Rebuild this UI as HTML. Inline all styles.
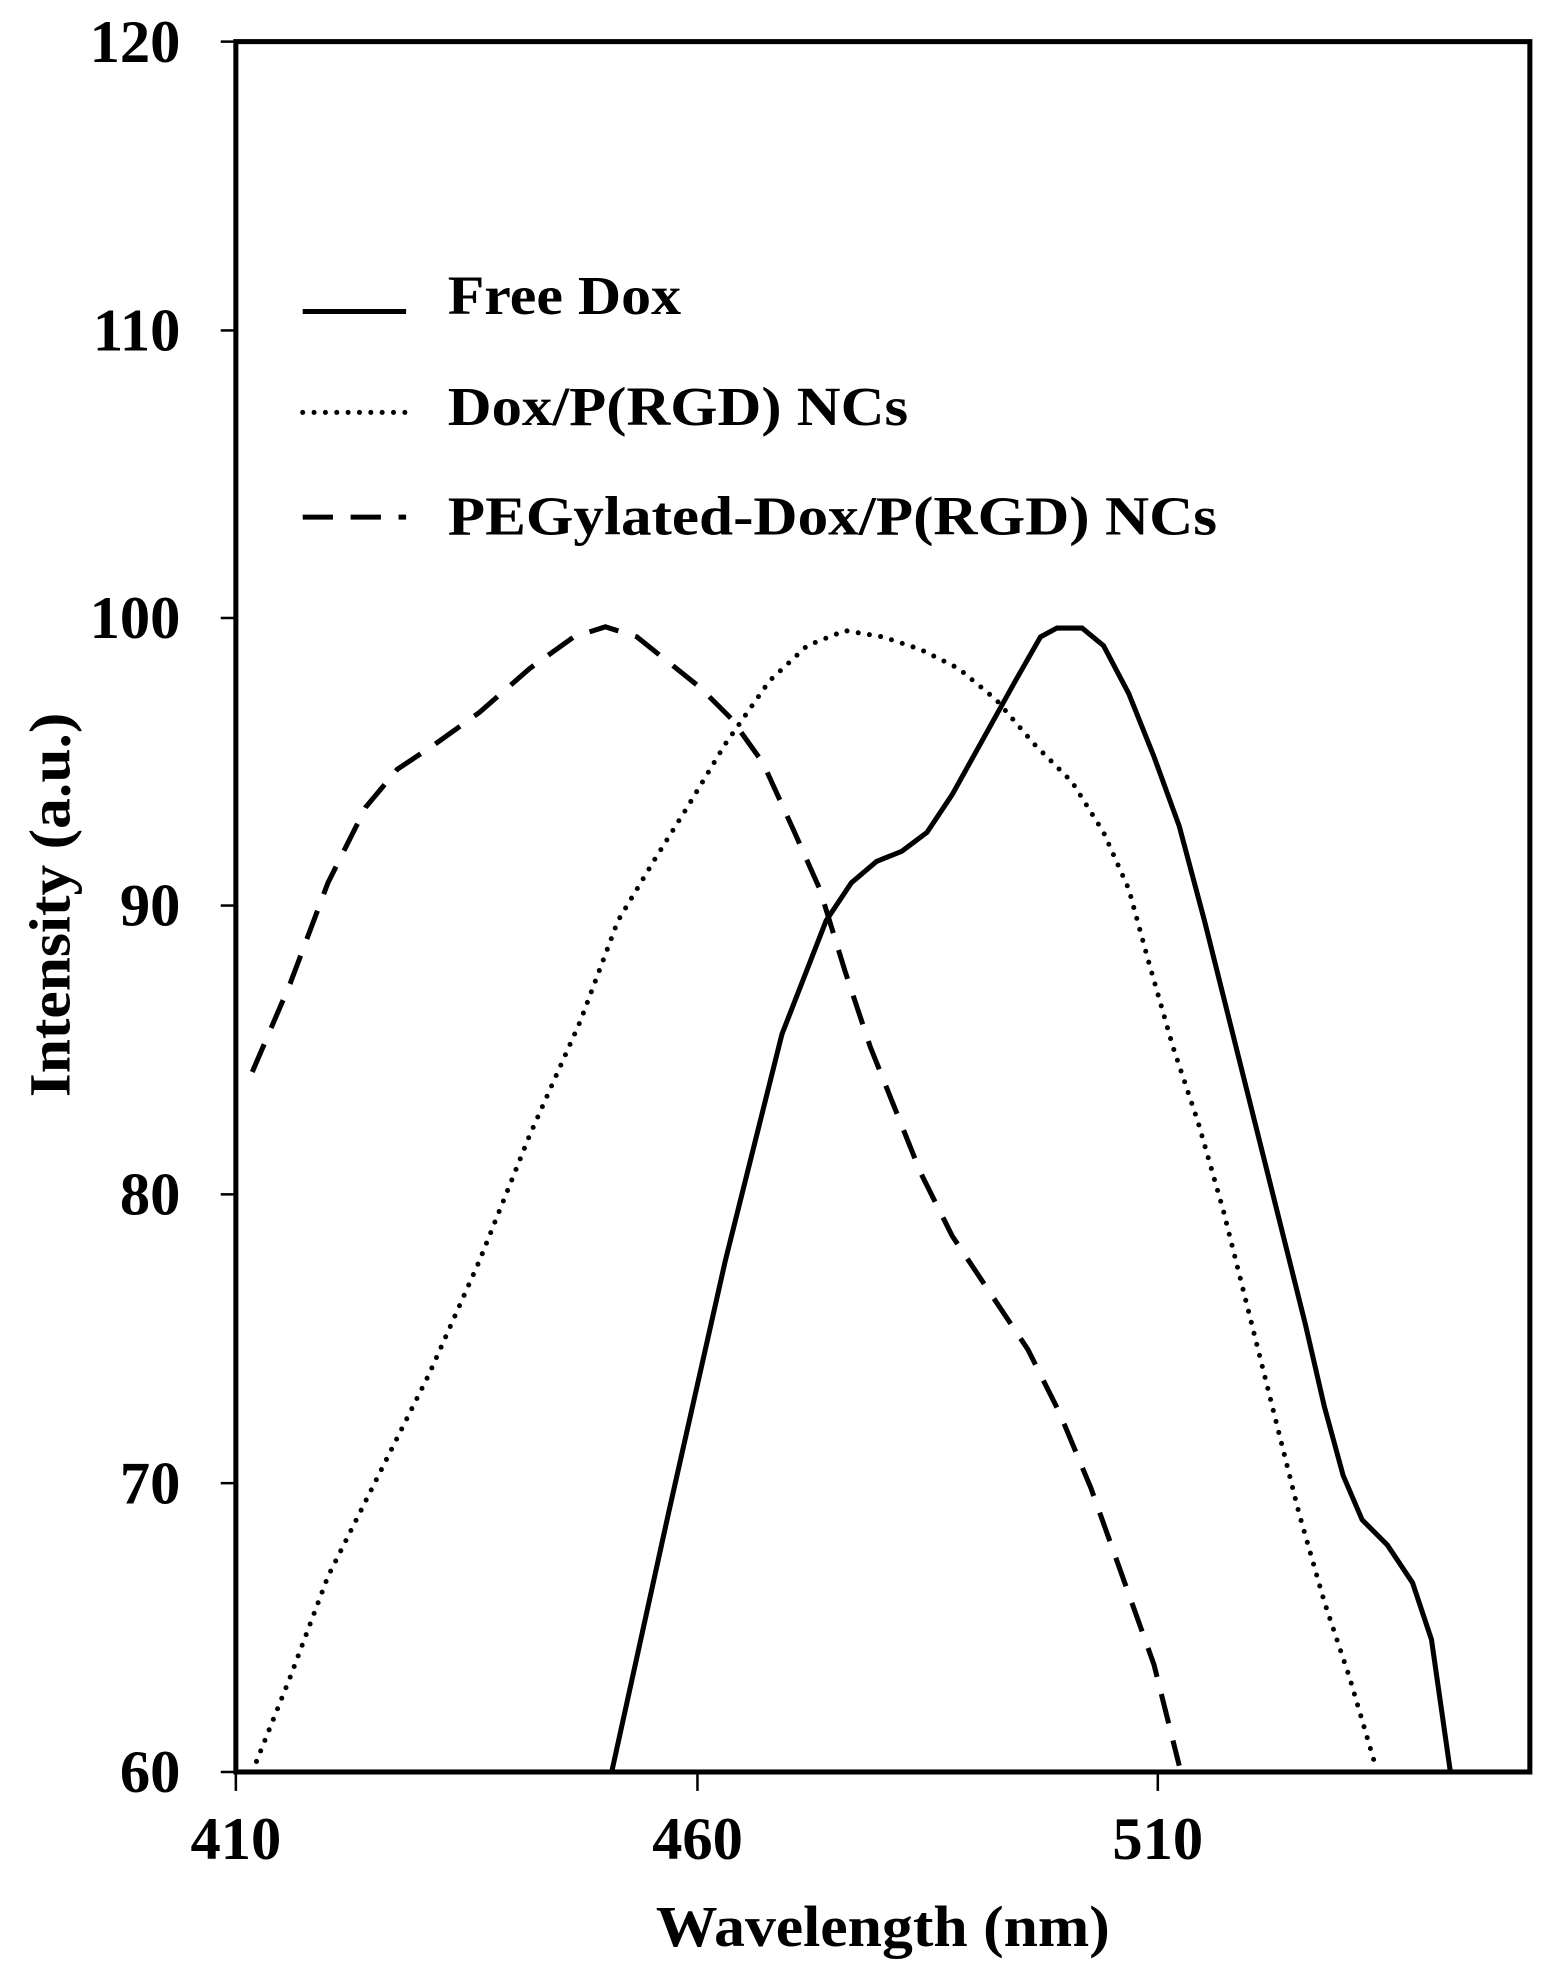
<!DOCTYPE html>
<html><head><meta charset="utf-8"><style>html,body{margin:0;padding:0;background:#fff}svg{display:block}</style></head>
<body>
<svg width="1545" height="1971" viewBox="0 0 1225 1562.8" xmlns="http://www.w3.org/2000/svg" font-family="Liberation Serif, serif" font-weight="bold">
<rect x="187" y="33" width="1026" height="1372" fill="none" stroke="#000" stroke-width="4"/>
<g stroke="#000" stroke-width="2">
<line x1="175" y1="33" x2="187" y2="33"/><line x1="175" y1="262" x2="187" y2="262"/><line x1="175" y1="490" x2="187" y2="490"/><line x1="175" y1="718" x2="187" y2="718"/><line x1="175" y1="947" x2="187" y2="947"/><line x1="175" y1="1176" x2="187" y2="1176"/><line x1="175" y1="1405" x2="187" y2="1405"/>
<line x1="187" y1="1405" x2="187" y2="1420"/><line x1="553" y1="1405" x2="553" y2="1420"/><line x1="918" y1="1405" x2="918" y2="1420"/>
</g>
<g font-size="48" text-anchor="end">
<text x="143" y="49">120</text><text x="143" y="278">110</text><text x="143" y="506">100</text><text x="143" y="734">90</text><text x="143" y="963">80</text><text x="143" y="1192">70</text><text x="143" y="1421">60</text>
</g>
<g font-size="48" text-anchor="middle">
<text x="187" y="1474">410</text><text x="553" y="1474">460</text><text x="918" y="1474">510</text>
</g>
<text x="520" y="1543" font-size="46" textLength="360" lengthAdjust="spacingAndGlyphs">Wavelength (nm)</text>
<text transform="translate(55,870) rotate(-90)" font-size="46" textLength="305" lengthAdjust="spacingAndGlyphs">Intensity (a.u.)</text>
<g fill="none" stroke="#000" stroke-width="4">
<line x1="240" y1="247" x2="322" y2="247"/>
<line x1="240" y1="327" x2="322" y2="327" stroke-dasharray="0 9" stroke-linecap="round"/>
<line x1="240" y1="410" x2="322" y2="410" stroke-dasharray="24 14"/>
<polyline points="485,1405 530,1200 575,1000 620,820 655,730 675,700 695,683 715,675 735,660 755,630 780,585 805,540 825,505 838,498 858,498 875,512 895,550 915,600 935,655 955,730 975,810 995,890 1015,970 1035,1050 1050,1115 1065,1170 1080,1205 1100,1225 1120,1255 1135,1300 1150,1405"/>
<polyline stroke-dasharray="0 9" stroke-linecap="round" points="200,1405 230,1330 260,1250 300,1170 340,1090 380,1000 420,900 460,810 490,730 520,680 545,640 575,590 610,540 640,512 670,500 700,505 730,515 760,530 790,555 820,590 850,620 875,660 895,705 910,760 930,830 950,890 970,960 990,1040 1010,1120 1030,1200 1050,1270 1070,1330 1090,1398"/>
<polyline stroke-dasharray="24 14" points="200,850 230,780 260,700 290,640 315,610 345,590 380,565 420,530 455,505 480,497 505,505 530,525 555,545 580,570 605,605 630,660 650,705 670,770 690,830 710,880 730,930 755,980 785,1025 815,1070 840,1120 865,1180 890,1250 915,1320 935,1400"/>
</g>
<g font-size="44">
<text x="355" y="249" textLength="185" lengthAdjust="spacingAndGlyphs">Free Dox</text>
<text x="355" y="337" textLength="365" lengthAdjust="spacingAndGlyphs">Dox/P(RGD) NCs</text>
<text x="355" y="424" textLength="610" lengthAdjust="spacingAndGlyphs">PEGylated-Dox/P(RGD) NCs</text>
</g>
</svg>
</body></html>
